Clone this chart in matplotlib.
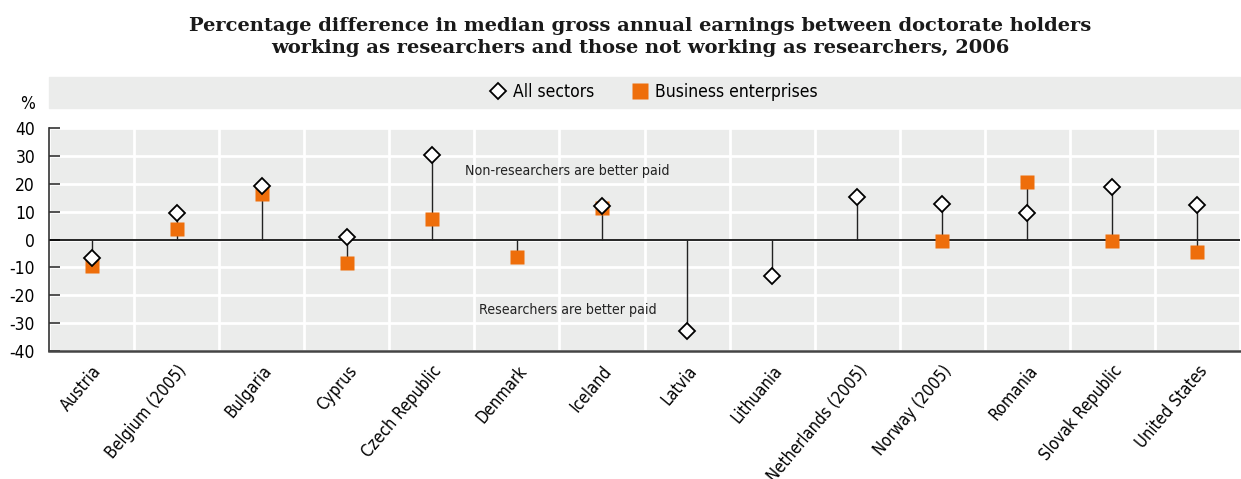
import numpy as np
import matplotlib.pyplot as plt
from matplotlib.patches import Rectangle
from matplotlib.lines import Line2D

plt.rcParams['font.family'] = ['DejaVu Sans']
plt.rcParams['font.stretch'] = 'condensed'

countries = ['Austria', 'Belgium (2005)', 'Bulgaria', 'Cyprus', 'Czech Republic',
             'Denmark', 'Iceland', 'Latvia', 'Lithuania', 'Netherlands (2005)',
             'Norway (2005)', 'Romania', 'Slovak Republic', 'United States']
all_sectors = [-6.7, 9.4, 19.2, 0.8, 30.3, np.nan, 12.1, -33.0, -13.1, 15.3,
               12.6, 9.6, 18.9, 12.4]
business = [-9.5, 3.9, 16.2, -8.3, 7.5, -6.2, 11.4, np.nan, np.nan, np.nan,
            -0.5, 20.6, -0.5, -4.4]
yticks = [-40, -30, -20, -10, 0, 10, 20, 30, 40]

bg = '#EBECEB'
orange = '#EE6E0B'

fig = plt.figure(figsize=(12.41, 4.79), dpi=100)
ax = fig.add_axes([49/1241, 1 - 351/479, 1191/1241, 223/479])
ax.set_facecolor(bg)

x = np.arange(len(countries))
a = np.array(all_sectors, dtype=float)
b = np.array(business, dtype=float)

# stems from zero to the furthest point
lo = np.nanmin(np.vstack([a, b, np.zeros_like(a)]), axis=0)
hi = np.nanmax(np.vstack([a, b, np.zeros_like(a)]), axis=0)
ax.vlines(x, lo, hi, color='#222222', lw=1, zorder=3)

ax.axhline(0, color='black', lw=1.2, zorder=2)
ax.plot(x, b, 's', color=orange, ms=10, mec='none', zorder=4, linestyle='none')
ax.plot(x, a, 'D', color='white', mec='black', mew=1.3, ms=8.5, zorder=5, linestyle='none')

ax.set_xlim(-0.5, len(countries) - 0.5)
ax.set_ylim(-40, 40)
ax.set_yticks(yticks)
ax.set_yticklabels([str(t) for t in yticks], fontsize=12.5)
ax.set_xticks(x)
ax.set_xticklabels(countries, rotation=50, ha='right', rotation_mode='anchor', fontsize=12)
ax.tick_params(axis='x', length=0, pad=8)
ax.tick_params(axis='y', direction='in', length=8, width=1.2, color='#333333', pad=10)

# white grid
ax.set_xticks(np.arange(-0.5, len(countries) + 0.5, 1), minor=True)
ax.grid(True, which='minor', axis='x', color='white', lw=2)
ax.grid(True, which='major', axis='y', color='white', lw=2)
ax.tick_params(axis='x', which='minor', length=0)
ax.set_axisbelow(True)

for s in ['top', 'right']:
    ax.spines[s].set_visible(False)
ax.spines['left'].set_color('#333333')
ax.spines['left'].set_linewidth(1.2)
ax.spines['bottom'].set_color('#444444')
ax.spines['bottom'].set_linewidth(1.8)

ax.text(4.39, 24.5, 'Non-researchers are better paid', fontsize=10.2, color='#222222', va='center')
ax.text(4.56, -25.3, 'Researchers are better paid', fontsize=10.2, color='#222222', va='center')

# legend band
fig.patches.append(Rectangle((49/1241, 1 - 108/479), 1191/1241, 31/479,
                             transform=fig.transFigure, color=bg, zorder=0))
handles = [Line2D([], [], marker='D', color='white', mec='black', mew=1.3, ms=8.5, ls='none'),
           Line2D([], [], marker='s', color=orange, mec='none', ms=11, ls='none')]
fig.legend(handles, ['All sectors', 'Business enterprises'], loc='center',
           bbox_to_anchor=(0.526, 1 - 92/479), ncol=2, frameon=False, fontsize=12.5,
           handletextpad=0.3, columnspacing=2.0, handlelength=1.2)

fig.text(28/1241, 1 - 104/479, '%', fontsize=12.5, ha='center', va='center')

fig.text(0.516, 1 - 37/479,
         'Percentage difference in median gross annual earnings between doctorate holders\n'
         'working as researchers and those not working as researchers, 2006',
         ha='center', va='center', fontsize=14, fontweight='bold', color='#1a1a1a',
         family=['DejaVu Serif'], stretch='normal', linespacing=1.3)

fig.savefig('out.png', dpi=100)
